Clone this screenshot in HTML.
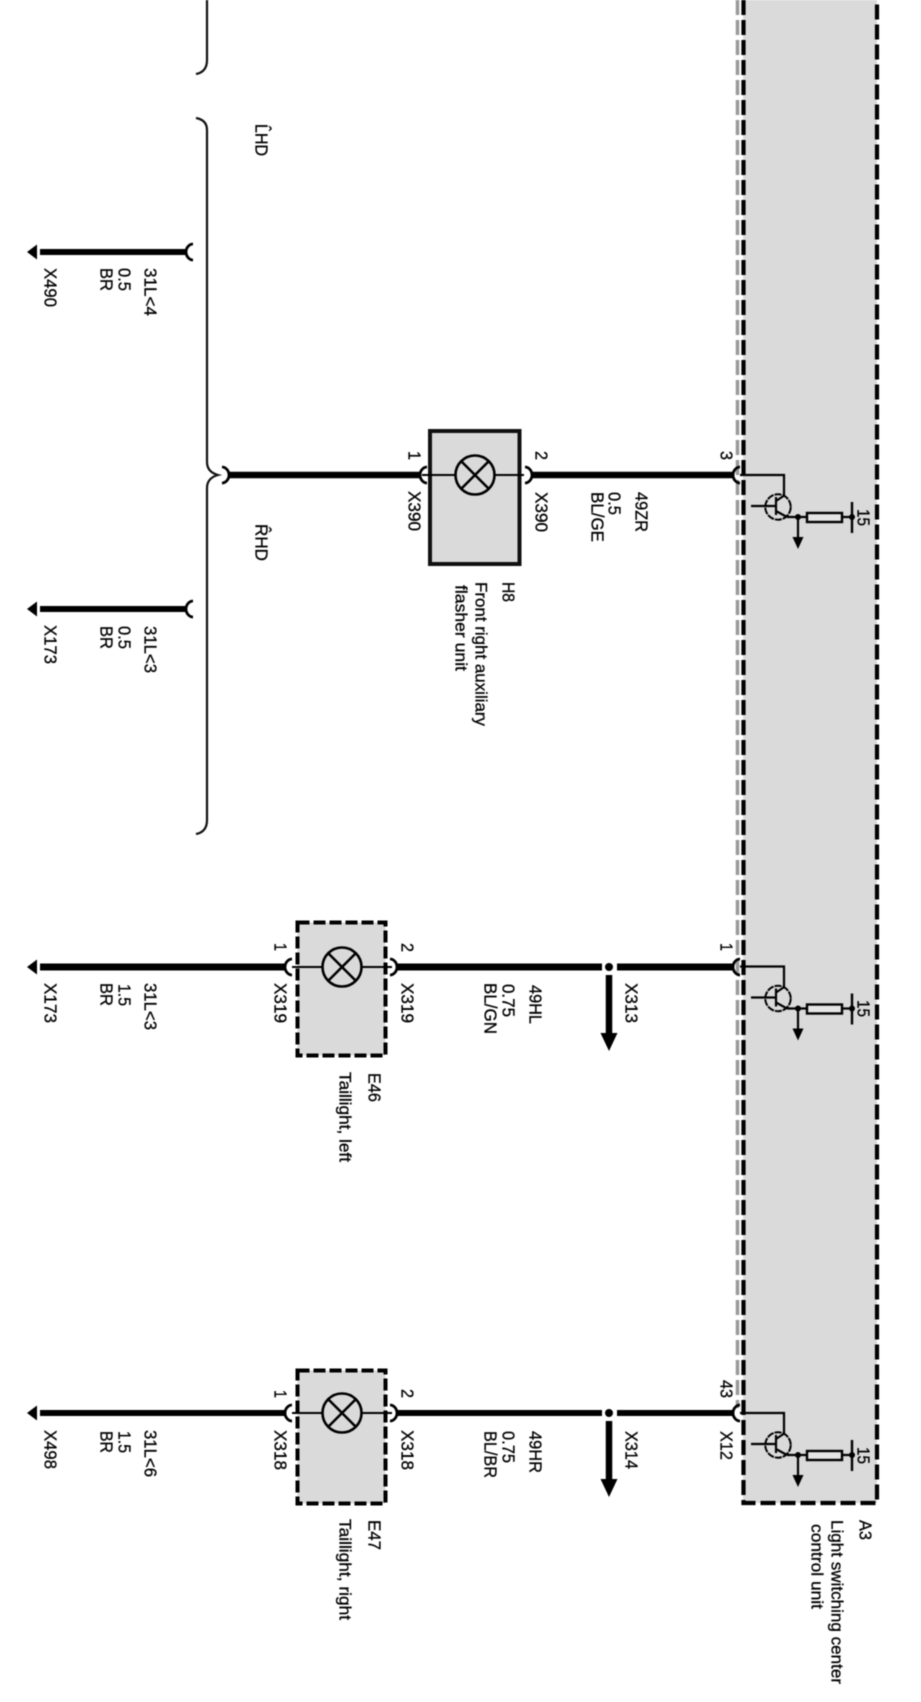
<!DOCTYPE html>
<html><head><meta charset="utf-8"><style>
html,body{margin:0;padding:0;background:#fff;width:921px;height:1702px;overflow:hidden}
svg{display:block;filter:blur(.45px)}
text{font-family:"Liberation Sans",sans-serif;font-size:17.5px;fill:#000;stroke:#000;stroke-width:.3}
.t{font-size:16.5px}
</style></head><body>
<svg width="921" height="1702" viewBox="0 0 921 1702" xmlns="http://www.w3.org/2000/svg">
<defs>
<g id="fork"><path d="M7,-8 C3,-8 0,-4 0,0 C0,4 3,8 7,8" fill="none" stroke="#000" stroke-width="2.8"/></g>
<g id="tail"><path d="M37,-7.500 L27,0 L37,7.500 Z" fill="#000"/></g>
<g id="trans" fill="none" stroke="#000" stroke-width="2.200">
<path d="M740,475 H784 V495"/>
<circle cx="778" cy="507" r="12.700" stroke-width="2" stroke-dasharray="7 1"/>
<path d="M751,506 H776 M776,497 V515" />
<path d="M776,501 L785,495 M776,511 L787,517"/>
<path d="M787,517 H807 M842,517 H852"/>
<rect x="807" y="513" width="35" height="9" fill="#e6e6e6" stroke-width="2.400"/>
<path d="M798,517 V538"/>
<path d="M852,502 V533" stroke-width="2.400"/>
<circle cx="798" cy="517" r="3" fill="#000" stroke="none"/>
<circle cx="852" cy="517" r="3" fill="#000" stroke="none"/>
<path d="M792.500,537 H803.500 L798,549 Z" fill="#000" stroke="none"/>
</g>
<g id="lamp" fill="none" stroke="#000">
<circle cx="0" cy="0" r="19.500" stroke-width="2.600"/>
<path d="M-14,-14 L14,14 M-14,14 L14,-14" stroke-width="2.600"/>
</g>
</defs>

<!-- A3 body -->
<rect x="743" y="0" width="134" height="1503" fill="#dadada"/>
<path d="M737.500,0 V1408" stroke="#999" stroke-width="3.500" stroke-dasharray="15 5" fill="none"/>
<path d="M743.500,0 V1503 H877 V0" stroke="#000" stroke-width="4.200" stroke-dasharray="15 5" fill="none"/>

<!-- brackets -->
<path d="M207,0 V60 Q207,72 196,74" fill="none" stroke="#111" stroke-width="2.200"/>
<path d="M196,118 Q207,120 207,130 V462 Q207,472 218,475 Q207,478 207,488 V820 Q207,832 196,834" fill="none" stroke="#111" stroke-width="2.200"/>

<!-- upper loose wires -->
<path d="M40,252 H187 M40,609 H187" stroke="#000" stroke-width="6" fill="none"/>
<use href="#tail" y="252"/><use href="#tail" y="609"/>
<use href="#fork" x="186" y="252"/><use href="#fork" x="186" y="609"/>

<!-- H8 row -->
<rect x="430" y="431" width="89.500" height="133" fill="#dadada" stroke="#111" stroke-width="4"/>
<path d="M422,475 H455 M495,475 H524" stroke="#000" stroke-width="2"/>
<use href="#lamp" x="475" y="475"/>
<path d="M228,475 H420 M531,475 H733" stroke="#000" stroke-width="6.500" fill="none"/>
<use href="#fork" transform="translate(229,475) scale(-1,1)"/>
<use href="#fork" x="420" y="475"/>
<use href="#fork" transform="translate(532,475) scale(-1,1)"/>
<use href="#fork" x="733" y="475"/>
<use href="#trans"/>

<!-- E46 row -->
<rect x="297.500" y="922.500" width="88" height="133" fill="#dadada" stroke="#000" stroke-width="4" stroke-dasharray="12 4"/>
<path d="M292,967 H322 M362,967 H392" stroke="#000" stroke-width="2"/>
<use href="#lamp" x="342" y="967"/>
<path d="M40,967 H285 M397,967 H602 M617,967 H733" stroke="#000" stroke-width="7" fill="none"/>
<use href="#tail" y="967"/>
<use href="#fork" x="285" y="967"/>
<use href="#fork" transform="translate(397,967) scale(-1,1)"/>
<use href="#fork" x="733" y="967"/>
<circle cx="609" cy="967" r="4" fill="#000"/>
<path d="M609,975 V1034" stroke="#000" stroke-width="6.500"/>
<path d="M600.500,1033 H617.500 L609,1051 Z" fill="#000"/>
<use href="#trans" y="491.500"/>

<!-- E47 row -->
<rect x="297.500" y="1370.500" width="88" height="133" fill="#dadada" stroke="#000" stroke-width="4" stroke-dasharray="12 4"/>
<path d="M292,1413 H322 M362,1413 H392" stroke="#000" stroke-width="2"/>
<use href="#lamp" x="342" y="1413"/>
<path d="M40,1413 H285 M397,1413 H602 M617,1413 H733" stroke="#000" stroke-width="6" fill="none"/>
<use href="#tail" y="1413"/>
<use href="#fork" x="285" y="1413"/>
<use href="#fork" transform="translate(397,1413) scale(-1,1)"/>
<use href="#fork" x="733" y="1413"/>
<circle cx="609" cy="1413" r="4" fill="#000"/>
<path d="M609,1421 V1480" stroke="#000" stroke-width="6.500"/>
<path d="M600.500,1479 H617.500 L609,1497 Z" fill="#000"/>
<use href="#trans" y="938"/>

<g transform="translate(1.500 0)">
<!-- labels: upper -->
<text transform="translate(254,124) rotate(90)" textLength="32" lengthAdjust="spacingAndGlyphs">L&#770;HD</text>
<text transform="translate(254,524) rotate(90)" textLength="37" lengthAdjust="spacingAndGlyphs">R&#770;HD</text>
<text transform="translate(43,268) rotate(90)" textLength="39" lengthAdjust="spacingAndGlyphs">X490</text>
<text transform="translate(99,268) rotate(90)" textLength="23" lengthAdjust="spacingAndGlyphs">BR</text>
<text transform="translate(117,268) rotate(90)" textLength="23" lengthAdjust="spacingAndGlyphs">0.5</text>
<text transform="translate(143,268) rotate(90)" textLength="48" lengthAdjust="spacingAndGlyphs">31L&lt;4</text>
<text transform="translate(43,625) rotate(90)" textLength="39" lengthAdjust="spacingAndGlyphs">X173</text>
<text transform="translate(99,626) rotate(90)" textLength="23" lengthAdjust="spacingAndGlyphs">BR</text>
<text transform="translate(117,626) rotate(90)" textLength="23" lengthAdjust="spacingAndGlyphs">0.5</text>
<text transform="translate(143,626) rotate(90)" textLength="47" lengthAdjust="spacingAndGlyphs">31L&lt;3</text>

<!-- H8 labels -->
<text transform="translate(407,451) rotate(90)" textLength="9" lengthAdjust="spacingAndGlyphs">1</text>
<text transform="translate(407,491) rotate(90)" textLength="40" lengthAdjust="spacingAndGlyphs">X390</text>
<text transform="translate(534,451) rotate(90)" textLength="9" lengthAdjust="spacingAndGlyphs">2</text>
<text transform="translate(534,492) rotate(90)" textLength="40" lengthAdjust="spacingAndGlyphs">X390</text>
<text transform="translate(590,492) rotate(90)" textLength="50" lengthAdjust="spacingAndGlyphs">BL/GE</text>
<text transform="translate(607,492) rotate(90)" textLength="23" lengthAdjust="spacingAndGlyphs">0.5</text>
<text transform="translate(634,492) rotate(90)" textLength="40" lengthAdjust="spacingAndGlyphs">49ZR</text>
<text transform="translate(719,451) rotate(90)" textLength="9" lengthAdjust="spacingAndGlyphs">3</text>
<text transform="translate(501,582) rotate(90)" textLength="20" lengthAdjust="spacingAndGlyphs">H8</text>
<text class="t" transform="translate(474,582) rotate(90)" textLength="144" lengthAdjust="spacingAndGlyphs">Front right auxiliary</text>
<text class="t" transform="translate(454,585) rotate(90)" textLength="86" lengthAdjust="spacingAndGlyphs">flasher unit</text>
<text transform="translate(856,509) rotate(90)" textLength="17" lengthAdjust="spacingAndGlyphs">15</text>

<!-- E46 labels -->
<text transform="translate(43,983) rotate(90)" textLength="40" lengthAdjust="spacingAndGlyphs">X173</text>
<text transform="translate(99,983) rotate(90)" textLength="23" lengthAdjust="spacingAndGlyphs">BR</text>
<text transform="translate(117,984) rotate(90)" textLength="22" lengthAdjust="spacingAndGlyphs">1.5</text>
<text transform="translate(143,983) rotate(90)" textLength="47" lengthAdjust="spacingAndGlyphs">31L&lt;3</text>
<text transform="translate(273,943) rotate(90)" textLength="8" lengthAdjust="spacingAndGlyphs">1</text>
<text transform="translate(273,983) rotate(90)" textLength="40" lengthAdjust="spacingAndGlyphs">X319</text>
<text transform="translate(400,943) rotate(90)" textLength="9" lengthAdjust="spacingAndGlyphs">2</text>
<text transform="translate(400,983) rotate(90)" textLength="40" lengthAdjust="spacingAndGlyphs">X319</text>
<text transform="translate(367,1073) rotate(90)" textLength="29" lengthAdjust="spacingAndGlyphs">E46</text>
<text class="t" transform="translate(338,1072) rotate(90)" textLength="90" lengthAdjust="spacingAndGlyphs">Taillight, left</text>
<text transform="translate(483,983) rotate(90)" textLength="51" lengthAdjust="spacingAndGlyphs">BL/GN</text>
<text transform="translate(501,984) rotate(90)" textLength="33" lengthAdjust="spacingAndGlyphs">0.75</text>
<text transform="translate(528,985) rotate(90)" textLength="39" lengthAdjust="spacingAndGlyphs">49HL</text>
<text transform="translate(624,983) rotate(90)" textLength="40" lengthAdjust="spacingAndGlyphs">X313</text>
<text transform="translate(719,943) rotate(90)" textLength="8" lengthAdjust="spacingAndGlyphs">1</text>
<text transform="translate(856,1000) rotate(90)" textLength="17" lengthAdjust="spacingAndGlyphs">15</text>

<!-- E47 labels -->
<text transform="translate(43,1430) rotate(90)" textLength="39" lengthAdjust="spacingAndGlyphs">X498</text>
<text transform="translate(99,1431) rotate(90)" textLength="22" lengthAdjust="spacingAndGlyphs">BR</text>
<text transform="translate(117,1431) rotate(90)" textLength="22" lengthAdjust="spacingAndGlyphs">1.5</text>
<text transform="translate(143,1430) rotate(90)" textLength="47" lengthAdjust="spacingAndGlyphs">31L&lt;6</text>
<text transform="translate(273,1390) rotate(90)" textLength="8" lengthAdjust="spacingAndGlyphs">1</text>
<text transform="translate(273,1430) rotate(90)" textLength="40" lengthAdjust="spacingAndGlyphs">X318</text>
<text transform="translate(400,1389) rotate(90)" textLength="9" lengthAdjust="spacingAndGlyphs">2</text>
<text transform="translate(400,1430) rotate(90)" textLength="40" lengthAdjust="spacingAndGlyphs">X318</text>
<text transform="translate(367,1520) rotate(90)" textLength="30" lengthAdjust="spacingAndGlyphs">E47</text>
<text class="t" transform="translate(338,1519) rotate(90)" textLength="101" lengthAdjust="spacingAndGlyphs">Taillight, right</text>
<text transform="translate(483,1431) rotate(90)" textLength="47" lengthAdjust="spacingAndGlyphs">BL/BR</text>
<text transform="translate(501,1431) rotate(90)" textLength="32" lengthAdjust="spacingAndGlyphs">0.75</text>
<text transform="translate(528,1431) rotate(90)" textLength="42" lengthAdjust="spacingAndGlyphs">49HR</text>
<text transform="translate(624,1431) rotate(90)" textLength="38" lengthAdjust="spacingAndGlyphs">X314</text>
<text transform="translate(719,1380) rotate(90)" textLength="18" lengthAdjust="spacingAndGlyphs">43</text>
<text transform="translate(719,1431) rotate(90)" textLength="29" lengthAdjust="spacingAndGlyphs">X12</text>
<text transform="translate(856,1447) rotate(90)" textLength="17" lengthAdjust="spacingAndGlyphs">15</text>
<text transform="translate(858,1520) rotate(90)" textLength="20" lengthAdjust="spacingAndGlyphs">A3</text>
<text class="t" transform="translate(830,1520) rotate(90)" textLength="164" lengthAdjust="spacingAndGlyphs">Light switching center</text>
<text class="t" transform="translate(810,1524) rotate(90)" textLength="85" lengthAdjust="spacingAndGlyphs">control unit</text>
</g>
</svg>
</body></html>
